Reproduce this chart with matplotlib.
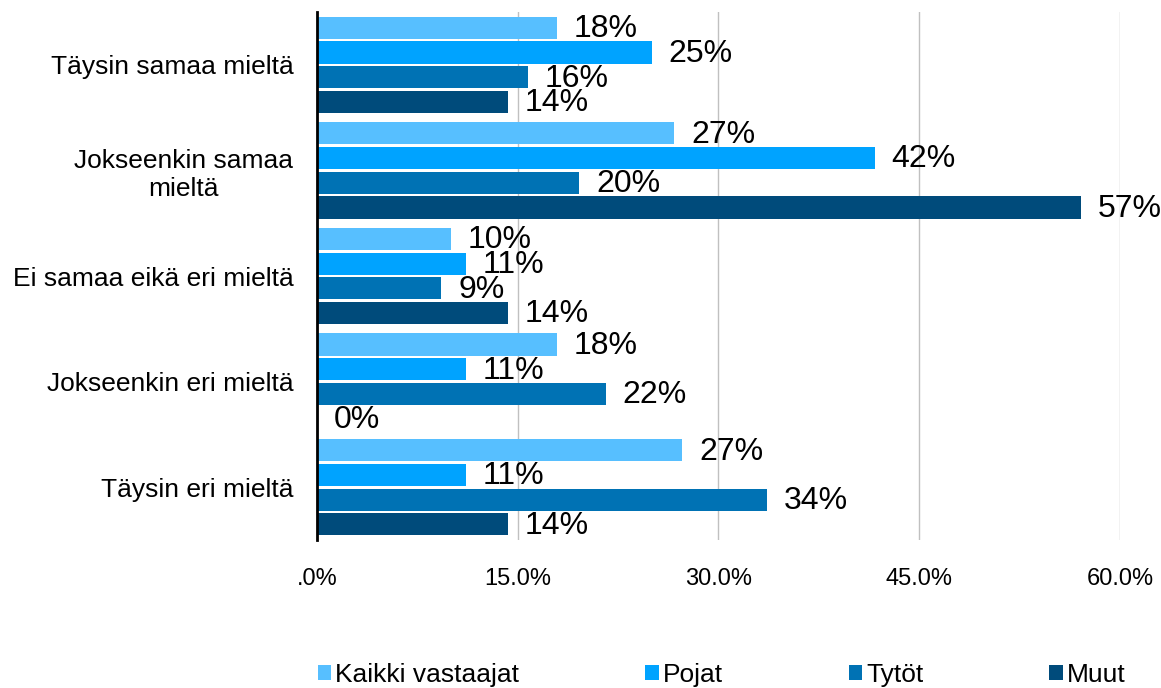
import matplotlib.pyplot as plt
import numpy as np

plt.rcParams['font.family'] = ['Liberation Sans', 'DejaVu Sans']

# vastausvaihtoehdot
categories = ["Täysin samaa mieltä", "Jokseenkin samaa\nmieltä",
              "Ei samaa eikä eri mieltä", "Jokseenkin eri mieltä", "Täysin eri mieltä"]

# prosentit ryhmittäin
kaikki = [17.9, 26.7, 10.0, 17.9, 27.3]
pojat = [25.0, 41.7, 11.1, 11.1, 11.1]
tytot = [15.8, 19.6, 9.3, 21.6, 33.6]
muut = [14.3, 57.1, 14.3, 0.0, 14.3]

series = [("Kaikki vastaajat", kaikki, "#57BFFF"),
          ("Pojat", pojat, "#00A3FF"),
          ("Tytöt", tytot, "#0072B4"),
          ("Muut", muut, "#004B7B")]

xticks = [0, 15, 30, 45, 60]
xtick_labels = [".0%", "15.0%", "30.0%", "45.0%", "60.0%"]

fig = plt.figure(figsize=(11.61, 6.88), dpi=100)
ax = fig.add_axes([0.273, 0.215, 0.6917, 0.7676])

y = np.arange(len(categories))
pitch = 0.234
h = 0.21
for i, (name, vals, col) in enumerate(series):
    pos = y - 1.5 * pitch + i * pitch
    bars = ax.barh(pos, vals, height=h, color=col, label=name)
    for b, v in zip(bars, vals):
        ax.annotate(f"{v:.0f}%", (v, b.get_y() + b.get_height() / 2),
                    xytext=(12, -1), textcoords="offset points",
                    ha="left", va="center", fontsize=23, color="black")

ax.set_ylim(len(categories) - 0.5, -0.5)
ax.set_xlim(0, 60)
ax.set_yticks(y)
ax.set_yticklabels(categories, fontsize=19, multialignment="center")
ax.set_xticks(xticks)
ax.set_xticklabels(xtick_labels, fontsize=17)
ax.tick_params(axis="both", length=0)
ax.tick_params(axis="y", pad=17)
ax.tick_params(axis="x", pad=20)
ax.grid(axis="x", color="#C0C0C0", linewidth=1)
ax.set_axisbelow(True)
for s in ["top", "right", "bottom"]:
    ax.spines[s].set_visible(False)
ax.spines["left"].set_linewidth(2)
ax.spines["left"].set_zorder(5)

leg = fig.legend(loc="center left", bbox_to_anchor=(0.274, 0.019), ncol=4,
                 frameon=False, handlelength=0.5, handleheight=0.5,
                 handletextpad=0.15, columnspacing=4.78,
                 borderpad=0, borderaxespad=0, fontsize=19)

fig.savefig("out.png", dpi=100)
